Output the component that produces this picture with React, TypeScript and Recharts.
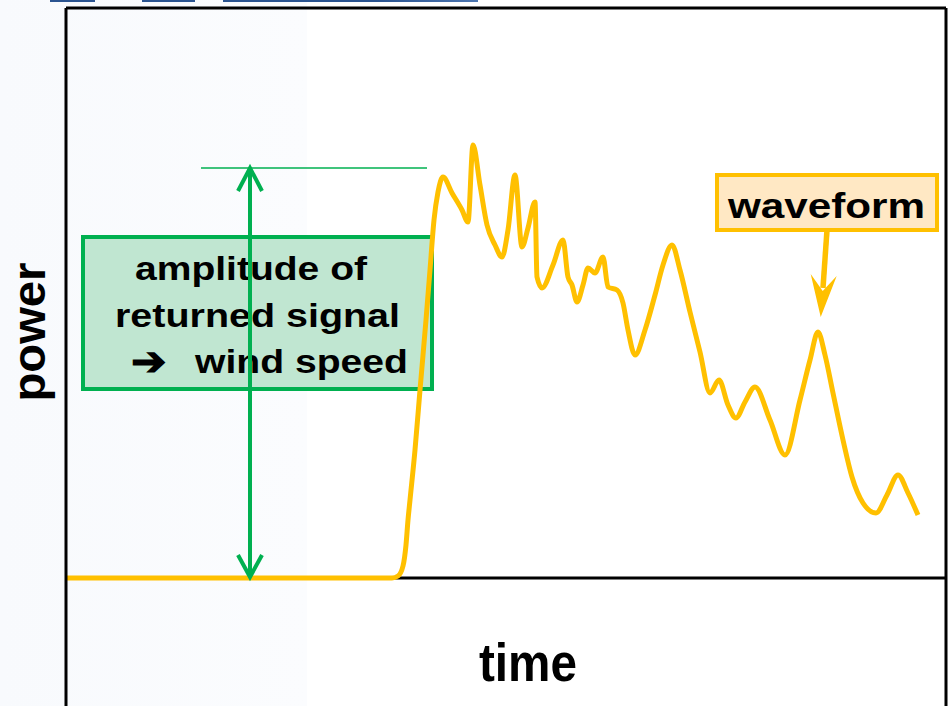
import { ComposedChart, Line, XAxis, YAxis, ReferenceLine, ReferenceArea, ReferenceDot, Label } from "recharts";

// waveform samples (time in arbitrary units, power in arbitrary units)
const timeValues = [
  0, 134, 234, 309, 326, 332, 337, 340, 342, 344, 349, 354, 360, 364, 368, 372, 377, 386, 396, 402,
  407, 414, 421, 429, 436, 442, 449, 456, 462, 469, 471, 476, 487, 497, 502, 506, 511, 517, 522, 529,
  537, 542, 551, 557, 562, 569, 579, 589, 597, 606, 614, 624, 634, 644, 653, 662, 670, 679, 689, 704,
  719, 734, 744, 752, 759, 767, 777, 786, 797, 810, 821, 832, 842, 852
];
const powerValues = [
  0, 0, 0, 0, 0, 2, 12, 33, 58, 78, 128, 188, 258, 308, 358, 386, 401, 385, 368, 356,
  433, 393, 353, 333, 321, 348, 403, 331, 350, 376, 301, 290, 313, 338, 301, 293, 276, 293, 310, 305,
  321, 291, 288, 275, 248, 223, 248, 283, 313, 333, 308, 266, 226, 185, 198, 173, 160, 176, 191, 158,
  123, 178, 218, 246, 223, 185, 138, 101, 75, 65, 83, 103, 85, 63
];

const data = timeValues.map((t, i) => ({ t, power: powerValues[i] }));

const FONT = '"Liberation Sans", Arial, Helvetica, sans-serif';
const GREEN = "#00B050";
const ORANGE = "#FFC000";

const bold = { fontFamily: FONT, fontWeight: 700, fill: "#000" };

function GreenBox(props: any) {
  const { x, y, width, height } = props;
  return (
    <g>
      <rect x={x} y={y} width={width} height={height} fill="#C0E6D1" stroke={GREEN} strokeWidth={4} />
      <text {...bold} fontSize={33} x={x + 52} y={y + 43} textLength={232} lengthAdjust="spacingAndGlyphs">
        amplitude of
      </text>
      <text {...bold} fontSize={33} x={x + 32} y={y + 90} textLength={285} lengthAdjust="spacingAndGlyphs">
        returned signal
      </text>
      <text {...bold} fontSize={40} x={x + 48} y={y + 138} textLength={36} lengthAdjust="spacingAndGlyphs">
        ➔
      </text>
      <text {...bold} fontSize={33} x={x + 112} y={y + 136} textLength={213} lengthAdjust="spacingAndGlyphs">
        wind speed
      </text>
    </g>
  );
}

function WaveBox(props: any) {
  const { x, y, width, height } = props;
  return (
    <g>
      <rect x={x} y={y} width={width} height={height} fill="#FFE8C4" stroke={ORANGE} strokeWidth={4} />
      <text {...bold} fontSize={35} x={x + 11} y={y + 43} textLength={197} lengthAdjust="spacingAndGlyphs">
        waveform
      </text>
    </g>
  );
}

const upHead = (p: any) => (
  <path d={`M${p.cx - 12},${p.cy + 23} L${p.cx},${p.cy} L${p.cx + 12},${p.cy + 23}`} fill="none" stroke={GREEN} strokeWidth={4} />
);
const downHead = (p: any) => (
  <path d={`M${p.cx - 12},${p.cy - 22} L${p.cx},${p.cy} L${p.cx + 12},${p.cy - 22}`} fill="none" stroke={GREEN} strokeWidth={4} />
);
const orangeHead = (p: any) => (
  <path
    d={`M${p.cx},${p.cy} L${p.cx - 10},${p.cy - 43} L${p.cx + 2},${p.cy - 26} L${p.cx + 16},${p.cy - 41} Z`}
    fill={ORANGE}
  />
);
const timeTitle = (p: any) => (
  <text {...bold} fontSize={54} x={p.cx} y={p.cy} textAnchor="middle" textLength={98} lengthAdjust="spacingAndGlyphs">
    time
  </text>
);
const powerTitle = () => (
  <text {...bold} fontSize={47} x={45} y={332} textAnchor="middle" transform="rotate(-90 45 332)" textLength={139} lengthAdjust="spacingAndGlyphs">
    power
  </text>
);

export default function App() {
  return (
    <div
      style={{
        position: "absolute",
        left: 0,
        top: 0,
        width: 949,
        height: 706,
        overflow: "hidden",
        background: "linear-gradient(to right, #f8fafd 0px, #fbfcfe 307px, #ffffff 307px)"
      }}
    >
      <div style={{ position: "absolute", top: 0, left: 50, width: 45, height: 2, background: "#2b5490" }} />
      <div style={{ position: "absolute", top: 0, left: 142, width: 53, height: 2, background: "#2b5490" }} />
      <div style={{ position: "absolute", top: 0, left: 223, width: 255, height: 2, background: "linear-gradient(to right, #2b5490, #2b5490 60%, #4d76b0)" }} />
      <ComposedChart width={949} height={706} data={data} margin={{ top: 8, right: 3, bottom: 0, left: 0 }}>
        <XAxis dataKey="t" type="number" domain={[0, 880]} hide />
        <YAxis
          type="number"
          domain={[-128, 570]}
          width={66}
          tick={false}
          tickLine={false}
          axisLine={{ stroke: "#000", strokeWidth: 3 }}
          allowDataOverflow
        >
          <Label content={powerTitle} />
        </YAxis>
        <ReferenceLine y={570} stroke="#000" strokeWidth={3} />
        <ReferenceLine x={880} stroke="#000" strokeWidth={3} />
        <ReferenceLine y={0} stroke="#000" strokeWidth={3} />

        <ReferenceLine segment={[{ x: 135, y: 410 }, { x: 361, y: 410 }]} stroke={GREEN} strokeWidth={1.5} />
        <ReferenceLine segment={[{ x: 184, y: 1 }, { x: 184, y: 410 }]} stroke={GREEN} strokeWidth={4} />
        <ReferenceDot x={184} y={410} r={1} shape={upHead} />
        <ReferenceDot x={184} y={1} r={1} shape={downHead} />
        <ReferenceArea x1={17} x2={366} y1={189} y2={341} shape={GreenBox} />

        <Line
          type="monotone"
          dataKey="power"
          stroke={ORANGE}
          strokeWidth={5}
          dot={false}
          activeDot={false}
          isAnimationActive={false}
        />

        <ReferenceArea x1={651} x2={871} y1={348} y2={403} shape={WaveBox} />
        <ReferenceLine segment={[{ x: 761, y: 348 }, { x: 757, y: 290 }]} stroke={ORANGE} strokeWidth={5.5} />
        <ReferenceDot x={754.7} y={261} r={1} shape={orangeHead} />
        <ReferenceDot x={462} y={-103} r={1} shape={timeTitle} />
      </ComposedChart>
    </div>
  );
}
